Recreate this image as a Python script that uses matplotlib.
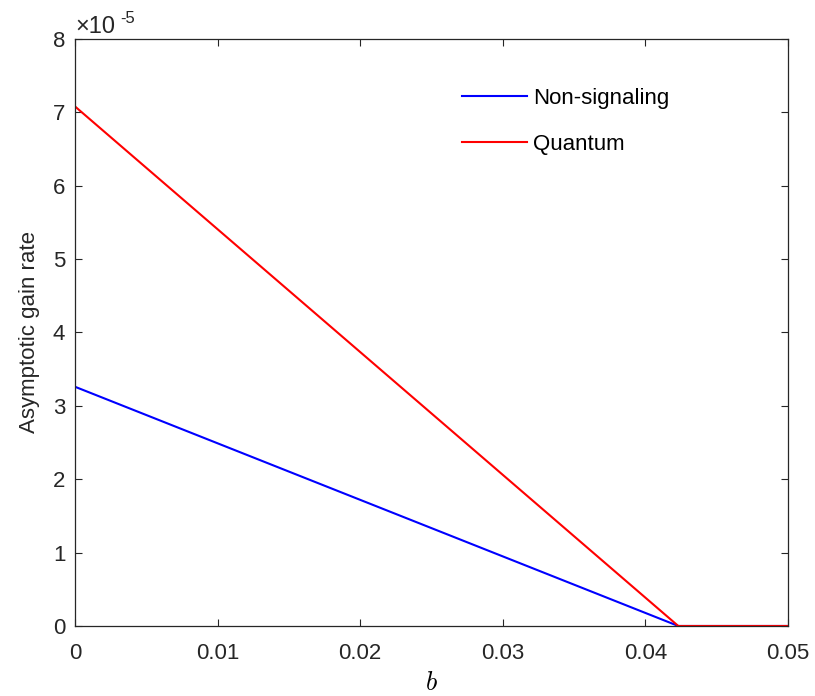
import numpy as np
import matplotlib.pyplot as plt

plt.rcParams['font.family'] = ['Liberation Sans', 'DejaVu Sans']
plt.rcParams['mathtext.fontset'] = 'cm'

# data (y in units of 1e-5)
b = [0.0, 0.0423, 0.05]
nonsig = [3.26, 0.0, 0.0]
quantum = [7.08, 0.0, 0.0]
scale = 1e-5

fig = plt.figure(figsize=(8.15, 6.96), dpi=100)
ax = fig.add_axes([0.092, 0.1006, 0.875, 0.8435])

ax.plot(b, np.array(nonsig) * scale, color='#0000ff', lw=1.5, label='Non-signaling')
ax.plot(b, np.array(quantum) * scale, color='#ff0000', lw=1.5, label='Quantum')

ax.set_xlim(0, 0.05)
ax.set_ylim(0, 8e-5)
ax.set_xticks([0, 0.01, 0.02, 0.03, 0.04, 0.05])
ax.set_xticklabels(['0', '0.01', '0.02', '0.03', '0.04', '0.05'])
ax.set_yticks(np.arange(9) * scale)
ax.set_yticklabels([str(i) for i in range(9)])
ax.tick_params(direction='in', top=True, right=True, labelsize=16,
               length=5, width=0.8, color='#262626', labelcolor='#262626')
ax.tick_params(axis='x', pad=12)
ax.tick_params(axis='y', pad=7)
for s in ax.spines.values():
    s.set_color('#262626')
    s.set_linewidth(0.9)

# exponent label in the top-left corner
ax.text(0.0, 1.002, '\u00d710', transform=ax.transAxes,
        fontsize=17, color='#262626', va='bottom', ha='left')
ax.text(0.0635, 1.022, '-5', transform=ax.transAxes,
        fontsize=12, color='#262626', va='bottom', ha='left')

ax.set_xlabel('$b$', fontsize=19, labelpad=5)
ax.set_ylabel('Asymptotic gain rate', fontsize=16, color='#262626', labelpad=9)

ax.legend(loc='upper left', bbox_to_anchor=(0.515, 0.95), frameon=False,
          fontsize=16, handlelength=2.9, handletextpad=0.27, labelspacing=1.1)

fig.savefig('out.png', dpi=100)
